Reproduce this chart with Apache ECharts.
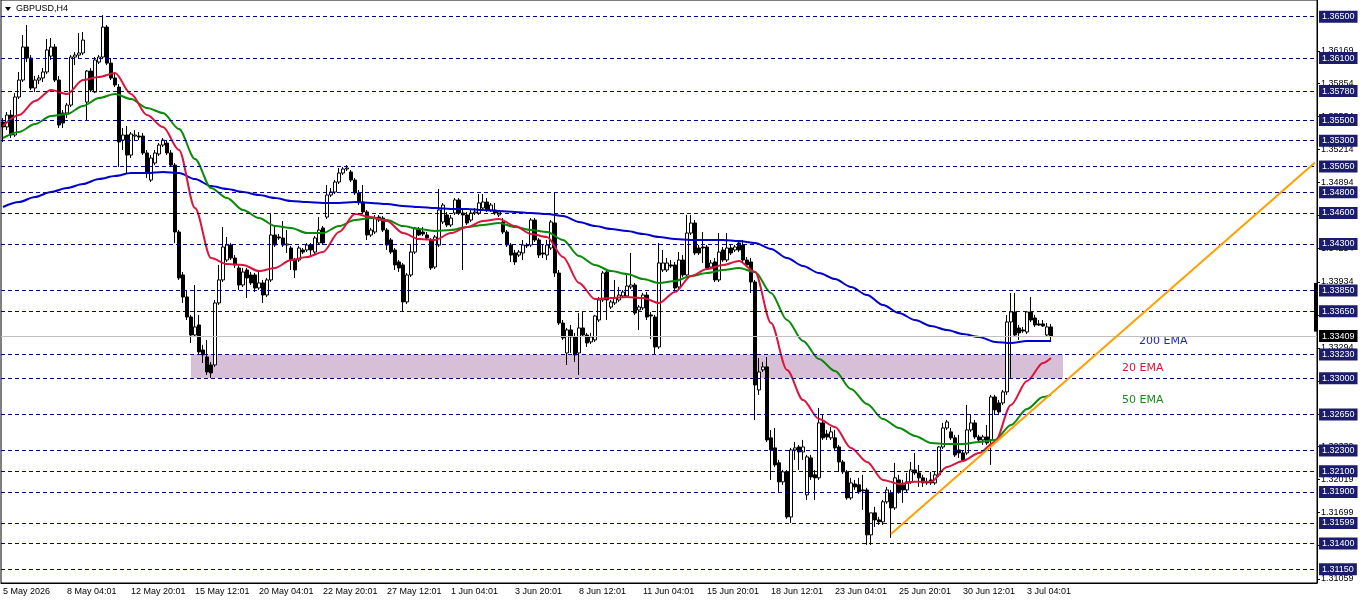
<!DOCTYPE html>
<html><head><meta charset="utf-8">
<script src="https://cdn.jsdelivr.net/npm/echarts@6/dist/echarts.min.js"></script>
<style>html,body{margin:0;padding:0;background:#fff}#c{width:1362px;height:603px}</style>
</head><body><div id="c"></div>
<script>
const symbolText = 'GBPUSD,H4';
const tickLabels = ['5 May 2026','8 May 04:01','12 May 20:01','15 May 12:01','20 May 04:01','22 May 20:01','27 May 12:01','1 Jun 04:01','3 Jun 20:01','8 Jun 12:01','11 Jun 04:01','15 Jun 20:01','18 Jun 12:01','23 Jun 04:01','25 Jun 20:01','30 Jun 12:01','3 Jul 04:01'];
const barsPerLabel = 16;
const slotCount = 329; // bars + empty chart shift
// [open, high, low, close]
const ohlc = [
[1.35481,1.35519,1.35287,1.35433],[1.35433,1.35578,1.35403,1.35548],[1.35548,1.35597,1.35326,1.35355],[1.35355,1.35761,1.35336,1.35723],[1.35723,1.35965,1.35703,1.35887],
[1.35887,1.36323,1.35868,1.36207],[1.36207,1.36420,1.36061,1.36100],[1.36100,1.36129,1.35790,1.35810],[1.35810,1.35926,1.35771,1.35887],[1.35887,1.35936,1.35848,1.35907],
[1.35907,1.36003,1.35868,1.35965],[1.35965,1.36284,1.35945,1.36178],[1.36119,1.36294,1.36081,1.36207],[1.36207,1.36236,1.35868,1.35887],[1.35887,1.35926,1.35423,1.35452],
[1.35568,1.35597,1.35423,1.35471],[1.35568,1.35665,1.35519,1.35645],[1.35645,1.36129,1.35626,1.36110],[1.36110,1.36158,1.36032,1.36129],[1.36129,1.36342,1.36100,1.36149],
[1.36149,1.36352,1.36129,1.36274],[1.35674,1.35984,1.35500,1.35974],[1.35974,1.36003,1.35771,1.35790],[1.35771,1.36110,1.35761,1.36081],[1.36061,1.36129,1.36042,1.36110],
[1.36110,1.36516,1.36090,1.36400],[1.36400,1.36420,1.36032,1.36051],[1.36051,1.36100,1.35887,1.35907],[1.35907,1.35945,1.35819,1.35839],[1.35819,1.35848,1.35045,1.35287],
[1.35306,1.35423,1.35210,1.35355],[1.35355,1.35442,1.34987,1.35161],[1.35161,1.35384,1.35132,1.35365],[1.35345,1.35403,1.35306,1.35355],[1.35345,1.35384,1.35306,1.35335],
[1.35345,1.35374,1.35161,1.35181],[1.35181,1.35210,1.34939,1.34997],[1.34919,1.35161,1.34900,1.35132],[1.35084,1.35210,1.35064,1.35181],[1.35171,1.35277,1.35152,1.35258],
[1.35258,1.35326,1.35239,1.35306],[1.35277,1.35306,1.35161,1.35181],[1.35181,1.35210,1.35045,1.35064],[1.35064,1.35084,1.34310,1.34416],[1.34416,1.34435,1.33952,1.33971],
[1.34000,1.34029,1.33729,1.33787],[1.33787,1.33855,1.33564,1.33593],[1.33593,1.33613,1.33342,1.33419],[1.33419,1.33903,1.33400,1.33497],[1.33516,1.33613,1.33226,1.33255],
[1.33274,1.33323,1.33148,1.33226],[1.33206,1.33371,1.33032,1.33061],[1.33129,1.33158,1.33003,1.33051],[1.33129,1.33758,1.33110,1.33729],[1.33729,1.34097,1.33710,1.33952],
[1.33952,1.34464,1.33932,1.34271],[1.34145,1.34368,1.34126,1.34290],[1.34290,1.34310,1.34145,1.34164],[1.34164,1.34193,1.34068,1.34097],[1.34068,1.34097,1.33855,1.33903],
[1.33903,1.34068,1.33884,1.34029],[1.34048,1.34068,1.33777,1.33971],[1.34000,1.34029,1.33903,1.33923],[1.34000,1.34019,1.33835,1.33874],[1.33874,1.34029,1.33855,1.33923],
[1.33923,1.33952,1.33729,1.33806],[1.33806,1.33971,1.33787,1.33952],[1.33952,1.34600,1.33932,1.34387],[1.34387,1.34484,1.34271,1.34290],[1.34368,1.34397,1.34339,1.34358],
[1.34358,1.34522,1.34271,1.34290],[1.34290,1.34435,1.34213,1.34300],[1.34261,1.34281,1.34048,1.34145],[1.34145,1.34164,1.33971,1.34048],[1.34145,1.34281,1.34126,1.34261],
[1.34242,1.34261,1.34203,1.34222],[1.34242,1.34310,1.34222,1.34290],[1.34290,1.34310,1.34174,1.34242],[1.34222,1.34377,1.34203,1.34358],[1.34310,1.34561,1.34290,1.34435],
[1.34455,1.34474,1.34290,1.34310],[1.34561,1.34871,1.34542,1.34774],[1.34774,1.34842,1.34755,1.34803],[1.34803,1.34919,1.34784,1.34900],[1.34900,1.35035,1.34881,1.34987],
[1.34987,1.35045,1.34968,1.35026],[1.35026,1.35064,1.35006,1.35035],[1.34997,1.35016,1.34900,1.34919],[1.34919,1.34939,1.34774,1.34794],[1.34794,1.34823,1.34677,1.34706],
[1.34706,1.34871,1.34590,1.34610],[1.34610,1.34629,1.34339,1.34387],[1.34387,1.34455,1.34368,1.34435],[1.34416,1.34581,1.34397,1.34551],[1.34561,1.34581,1.34513,1.34532],
[1.34551,1.34571,1.34416,1.34435],[1.34435,1.34455,1.34242,1.34290],[1.34339,1.34358,1.34203,1.34222],[1.34242,1.34261,1.34048,1.34097],[1.34126,1.34145,1.34029,1.34068],
[1.34097,1.34116,1.33642,1.33739],[1.33739,1.34019,1.33719,1.34000],[1.34000,1.34290,1.33981,1.34222],[1.34222,1.34464,1.34203,1.34455],[1.34435,1.34464,1.34377,1.34387],
[1.34416,1.34464,1.34377,1.34397],[1.34387,1.34416,1.34339,1.34358],[1.34339,1.34358,1.34048,1.34068],[1.34077,1.34387,1.34058,1.34368],[1.34290,1.34832,1.34271,1.34629],
[1.34513,1.34697,1.34493,1.34677],[1.34581,1.34610,1.34464,1.34484],[1.34484,1.34581,1.34464,1.34551],[1.34600,1.34745,1.34581,1.34726],[1.34726,1.34745,1.34581,1.34600],
[1.34600,1.34629,1.34048,1.34581],[1.34581,1.34610,1.34484,1.34503],[1.34532,1.34629,1.34513,1.34600],[1.34600,1.34648,1.34581,1.34610],[1.34600,1.34784,1.34581,1.34697],
[1.34648,1.34784,1.34629,1.34706],[1.34706,1.34745,1.34610,1.34629],[1.34629,1.34697,1.34610,1.34677],[1.34629,1.34697,1.34581,1.34600],[1.34581,1.34629,1.34561,1.34610],
[1.34513,1.34551,1.34397,1.34416],[1.34416,1.34435,1.34271,1.34290],[1.34290,1.34310,1.34126,1.34193],[1.34213,1.34242,1.34097,1.34126],[1.34193,1.34242,1.34174,1.34222],
[1.34213,1.34339,1.34145,1.34290],[1.34290,1.34310,1.34261,1.34281],[1.34290,1.34551,1.34271,1.34532],[1.34532,1.34551,1.34319,1.34339],[1.34339,1.34358,1.34164,1.34193],
[1.34213,1.34290,1.34164,1.34203],[1.34193,1.34339,1.34145,1.34290],[1.34261,1.34532,1.34242,1.34513],[1.34503,1.34803,1.33981,1.34019],[1.34019,1.34048,1.33516,1.33535],
[1.33535,1.33564,1.33371,1.33390],[1.33245,1.33487,1.33129,1.33468],[1.33468,1.33516,1.33245,1.33400],[1.33400,1.33439,1.33158,1.33226],[1.33245,1.33632,1.33032,1.33487],
[1.33487,1.33642,1.33400,1.33419],[1.33419,1.33439,1.33303,1.33342],[1.33352,1.33439,1.33332,1.33400],[1.33371,1.33613,1.33352,1.33603],[1.33564,1.33787,1.33545,1.33758],
[1.33758,1.34038,1.33739,1.34019],[1.34029,1.34048,1.33564,1.33758],[1.33690,1.33758,1.33671,1.33739],[1.33729,1.33952,1.33710,1.33777],[1.33758,1.33884,1.33739,1.33806],
[1.33797,1.33855,1.33787,1.33835],[1.33797,1.34000,1.33777,1.33893],[1.33884,1.34213,1.33864,1.33903],[1.33903,1.33923,1.33613,1.33632],[1.33661,1.33710,1.33468,1.33690],
[1.33681,1.33826,1.33661,1.33806],[1.33806,1.33835,1.33564,1.33593],[1.33613,1.33642,1.33381,1.33603],[1.33593,1.33613,1.33226,1.33303],[1.33303,1.34310,1.33284,1.34116],
[1.34048,1.34242,1.34029,1.34116],[1.34048,1.34164,1.34029,1.34116],[1.34097,1.34145,1.34068,1.34087],[1.34097,1.34126,1.33855,1.33874],[1.33884,1.34222,1.33864,1.34145],
[1.34145,1.34193,1.33981,1.34000],[1.34000,1.34581,1.33981,1.34406],[1.34406,1.34581,1.34387,1.34503],[1.34503,1.34532,1.34193,1.34213],[1.34261,1.34290,1.34193,1.34213],
[1.34271,1.34416,1.34116,1.34261],[1.34271,1.34290,1.34048,1.34068],[1.34077,1.34145,1.34058,1.34116],[1.34126,1.34164,1.33932,1.33952],[1.33952,1.34406,1.33932,1.34222],
[1.34242,1.34271,1.34126,1.34145],[1.34145,1.34406,1.34126,1.34261],[1.34261,1.34290,1.34193,1.34213],[1.34242,1.34290,1.34222,1.34271],[1.34310,1.34339,1.34222,1.34242],
[1.34290,1.34339,1.34126,1.34145],[1.34145,1.34174,1.34077,1.34097],[1.34126,1.34164,1.33826,1.33932],[1.33932,1.33952,1.32597,1.32935],[1.32887,1.33196,1.32839,1.33061],
[1.33081,1.33158,1.33061,1.33110],[1.33110,1.33206,1.32384,1.32403],[1.32423,1.32500,1.32016,1.32306],[1.32326,1.32519,1.32142,1.32161],[1.32181,1.32210,1.31900,1.31997],
[1.31997,1.32113,1.31968,1.32094],[1.32094,1.32113,1.31639,1.31658],[1.31658,1.32326,1.31600,1.32306],[1.32306,1.32384,1.32210,1.32326],[1.32335,1.32355,1.32113,1.32287],
[1.32287,1.32403,1.32210,1.32335],[1.31871,1.32258,1.31823,1.32239],[1.32229,1.32258,1.32016,1.32045],[1.32065,1.32113,1.31823,1.32036],[1.32036,1.32713,1.32016,1.32568],
[1.32568,1.32645,1.32403,1.32423],[1.32461,1.32500,1.32403,1.32432],[1.32423,1.32529,1.32403,1.32481],[1.32423,1.32500,1.32306,1.32326],[1.32335,1.32355,1.32094,1.32190],
[1.32190,1.32210,1.32074,1.32094],[1.32094,1.32113,1.31823,1.31842],[1.31842,1.32036,1.31823,1.31987],[1.31977,1.32016,1.31919,1.31948],[1.31968,1.32036,1.31881,1.31900],
[1.31919,1.32065,1.31726,1.31910],[1.31919,1.31939,1.31387,1.31484],[1.31484,1.31697,1.31387,1.31697],[1.31697,1.31755,1.31561,1.31629],[1.31629,1.31658,1.31581,1.31610],
[1.31610,1.31823,1.31581,1.31804],[1.31804,1.31948,1.31784,1.31919],[1.31890,1.31919,1.31455,1.31745],[1.31745,1.32181,1.31726,1.32036],[1.32016,1.32065,1.31881,1.31900],
[1.31968,1.32016,1.31794,1.31919],[1.31919,1.32084,1.31900,1.31997],[1.31997,1.32190,1.31977,1.32113],[1.32113,1.32277,1.32065,1.32084],[1.32084,1.32161,1.31948,1.32036],
[1.32036,1.32065,1.31948,1.31987],[1.31997,1.32036,1.31968,1.31987],[1.32016,1.32094,1.31968,1.31987],[1.31987,1.32094,1.31968,1.32065],[1.32065,1.32345,1.32045,1.32335],
[1.32335,1.32568,1.32316,1.32519],[1.32519,1.32597,1.32500,1.32577],[1.32481,1.32519,1.32403,1.32423],[1.32423,1.32452,1.32239,1.32258],[1.32306,1.32452,1.32229,1.32277],
[1.32277,1.32306,1.32190,1.32210],[1.32277,1.32742,1.32258,1.32500],[1.32500,1.32645,1.32481,1.32568],[1.32568,1.32597,1.32413,1.32432],[1.32432,1.32452,1.32384,1.32403],
[1.32403,1.32452,1.32355,1.32432],[1.32432,1.32548,1.32355,1.32374],[1.32403,1.32839,1.32161,1.32819],[1.32819,1.32839,1.32645,1.32694],[1.32761,1.32790,1.32655,1.32674],
[1.32761,1.32887,1.32742,1.32868],[1.32868,1.33613,1.32839,1.33545],[1.33545,1.33826,1.33003,1.33642],[1.33642,1.33826,1.33400,1.33419],[1.33487,1.33516,1.33371,1.33439],
[1.33468,1.33497,1.33439,1.33458],[1.33448,1.33652,1.33429,1.33642],[1.33642,1.33787,1.33545,1.33564],[1.33584,1.33613,1.33497,1.33516],[1.33526,1.33564,1.33506,1.33516],
[1.33526,1.33564,1.33497,1.33506],[1.33419,1.33535,1.33400,1.33497],[1.33497,1.33526,1.33371,1.33409]
];
// EMA readings every 4 bars (bars 0,4,...,260) plus the last bar
const emaStep = 4;
const ema20 = [1.35442,1.35548,1.35684,1.35790,1.35752,1.35887,1.35916,1.35955,1.35752,1.35548,
1.35432,1.35210,1.34648,1.34164,1.34106,1.34097,1.34038,1.34068,1.34145,1.34174,
1.34222,1.34416,1.34590,1.34561,1.34522,1.34406,1.34348,1.34339,1.34406,1.34464,
1.34522,1.34542,1.34474,1.34397,1.34368,1.34174,1.33923,1.33767,1.33777,1.33787,
1.33777,1.33729,1.33835,1.33990,1.34058,1.34097,1.34135,1.34029,1.33535,1.33081,
1.32790,1.32606,1.32529,1.32326,1.32190,1.32016,1.31977,1.31997,1.31997,1.32142,
1.32200,1.32277,1.32384,1.32742,1.32974,1.33148,1.33196];
const ema50 = [1.35326,1.35384,1.35461,1.35539,1.35558,1.35636,1.35713,1.35752,1.35703,1.35616,
1.35568,1.35413,1.35123,1.34842,1.34745,1.34629,1.34551,1.34474,1.34455,1.34406,
1.34406,1.34474,1.34532,1.34551,1.34532,1.34474,1.34445,1.34426,1.34435,1.34464,
1.34484,1.34503,1.34464,1.34435,1.34416,1.34339,1.34184,1.34097,1.34038,1.34009,
1.33961,1.33923,1.33942,1.33990,1.34019,1.34048,1.34068,1.34029,1.33826,1.33564,
1.33361,1.33187,1.33071,1.32897,1.32751,1.32606,1.32519,1.32442,1.32374,1.32364,
1.32364,1.32384,1.32403,1.32548,1.32703,1.32819,1.32839];
const ema200 = [1.34658,1.34706,1.34755,1.34803,1.34842,1.34881,1.34929,1.34958,1.34987,1.34987,
1.34997,1.34987,1.34929,1.34861,1.34832,1.34803,1.34774,1.34745,1.34716,1.34706,
1.34697,1.34697,1.34706,1.34697,1.34687,1.34668,1.34658,1.34648,1.34639,1.34639,
1.34629,1.34619,1.34610,1.34600,1.34590,1.34571,1.34513,1.34474,1.34445,1.34426,
1.34397,1.34368,1.34348,1.34339,1.34339,1.34339,1.34329,1.34310,1.34252,1.34164,
1.34087,1.34019,1.33961,1.33884,1.33806,1.33710,1.33632,1.33564,1.33506,1.33468,
1.33429,1.33400,1.33352,1.33342,1.33361,1.33361,1.33361];
const levels = [1.36500,1.36100,1.35780,1.35500,1.35300,1.35050,1.34800,1.34600,1.34300,1.33850,1.33650,1.33230,1.33000,1.32650,1.32300,1.32100,1.31900,1.31599,1.31400,1.31150];
const axisTickValues = [1.36169,1.35854,1.35534,1.35214,1.34894,1.34574,1.34254,1.33934,1.33614,1.33294,1.32974,1.32654,1.32339,1.32019,1.31699,1.31379,1.31059];
const currentPrice = 1.33409;
const zonePrices = [1.33000, 1.33230];
const zoneBars = [47, 265];
const trendPoints = [[222, 1.31493], [328, 1.35089]];
const axisMarker = [1.33923, 1.33452];
const priceMin = 1.31018, priceMax = 1.36662;

const FONT = '"Liberation Sans", Arial, sans-serif';
const lastBar = ohlc.length - 1;
const categories = Array.from({length: slotCount}, (_, i) =>
  (i % barsPerLabel === 0 && i / barsPerLabel < tickLabels.length) ? tickLabels[i / barsPerLabel] : '');
const showTick = (i) => i % barsPerLabel === 0 && i / barsPerLabel < tickLabels.length;
const emaData = (vals) => vals.map((v, k) => [k === vals.length - 1 ? lastBar : k * emaStep, v]);
const emaLine = (name, vals, color) => ({
  type: 'line', name, data: emaData(vals), showSymbol: false, symbol: 'none',
  smooth: 0.3, smoothMonotone: 'x', lineStyle: { color, width: 2 }, z: 4, silent: true
});

const chart = echarts.init(document.getElementById('c'), null, { renderer: 'canvas' });
chart.setOption({
  animation: false,
  backgroundColor: '#fff',
  textStyle: { fontFamily: FONT },
  grid: { left: 1, top: 0, width: slotCount * 4, height: 583, show: true, borderColor: '#000', borderWidth: 1, backgroundColor: '#fff' },
  xAxis: {
    type: 'category', data: categories, boundaryGap: true,
    axisLine: { lineStyle: { color: '#000', width: 1 } },
    axisTick: { alignWithLabel: true, interval: showTick, length: 3, lineStyle: { color: '#000' } },
    axisLabel: { interval: showTick, align: 'left', color: '#000', fontSize: 9, fontFamily: FONT, margin: 4 },
    splitLine: { show: false }
  },
  yAxis: {
    type: 'value', position: 'right', min: priceMin, max: priceMax, scale: true,
    axisLine: { show: true, lineStyle: { color: '#000', width: 1 } },
    axisTick: { show: true, length: 3, customValues: axisTickValues, lineStyle: { color: '#000' } },
    axisLabel: { customValues: axisTickValues, formatter: (v) => v.toFixed(5), color: '#000', fontSize: 9, fontFamily: FONT, margin: 4 },
    splitLine: { show: false }
  },
  graphic: [
    { type: 'polygon', shape: { points: [[5, 7], [11, 7], [8, 11]] }, style: { fill: '#000' } },
    { type: 'text', left: 16, top: 4, style: { text: symbolText, fill: '#000', font: '9px ' + FONT } },
    { type: 'text', left: 1139, top: 336, style: { text: '200 EMA', fill: '#1e1ec8', font: '11px "DejaVu Sans", sans-serif' } },
    { type: 'text', left: 1122, top: 363, style: { text: '20 EMA', fill: '#dc143c', font: '11px "DejaVu Sans", sans-serif' } },
    { type: 'text', left: 1122, top: 395, style: { text: '50 EMA', fill: '#1e8a1e', font: '11px "DejaVu Sans", sans-serif' } }
  ],
  series: [
    {
      type: 'line', data: [], z: 1, silent: true,
      markArea: { silent: true, itemStyle: { color: '#d8bfd8' },
        data: [[{ xAxis: zoneBars[0], yAxis: zonePrices[1] }, { xAxis: zoneBars[1], yAxis: zonePrices[0] }]] },
      markLine: {
        silent: true, symbol: ['none', 'none'], animation: false, precision: 5,
        data: levels.map(v => ({
          yAxis: v,
          lineStyle: { color: '#000080', type: [4, 3], width: 1 },
          label: { show: true, position: 'end', distance: 2, formatter: () => v.toFixed(5), color: '#fff',
            backgroundColor: '#1c1c6e', padding: [2, 3, 1, 3], fontSize: 9, fontFamily: FONT }
        })).concat([{
          yAxis: currentPrice,
          lineStyle: { color: '#c0c0c0', type: 'solid', width: 1 },
          label: { show: true, position: 'end', distance: 2, formatter: () => currentPrice.toFixed(5), color: '#fff',
            backgroundColor: '#000', padding: [2, 3, 1, 3], fontSize: 9, fontFamily: FONT }
        }])
      }
    },
    {
      type: 'candlestick', z: 3, silent: true, barWidth: 3,
      data: ohlc.map(r => [r[0], r[3], r[2], r[1]]),
      itemStyle: { color: '#fff', color0: '#000', borderColor: '#000', borderColor0: '#000', borderWidth: 1 },
      markLine: { silent: true, symbol: ['none', 'none'], label: { show: false }, precision: 5,
        data: [[{ coord: [slotCount - 1, axisMarker[0]] }, { coord: [slotCount - 1, axisMarker[1]] }]],
        lineStyle: { color: '#000', width: 3, type: 'solid' } }
    },
    emaLine('200 EMA', ema200, '#0000cd'),
    emaLine('50 EMA', ema50, '#0a8a0a'),
    emaLine('20 EMA', ema20, '#dc143c'),
    { type: 'line', name: 'trend', data: trendPoints, showSymbol: false, symbol: 'none',
      lineStyle: { color: '#ffa000', width: 2 }, z: 5, silent: true }
  ]
});
</script></body></html>
